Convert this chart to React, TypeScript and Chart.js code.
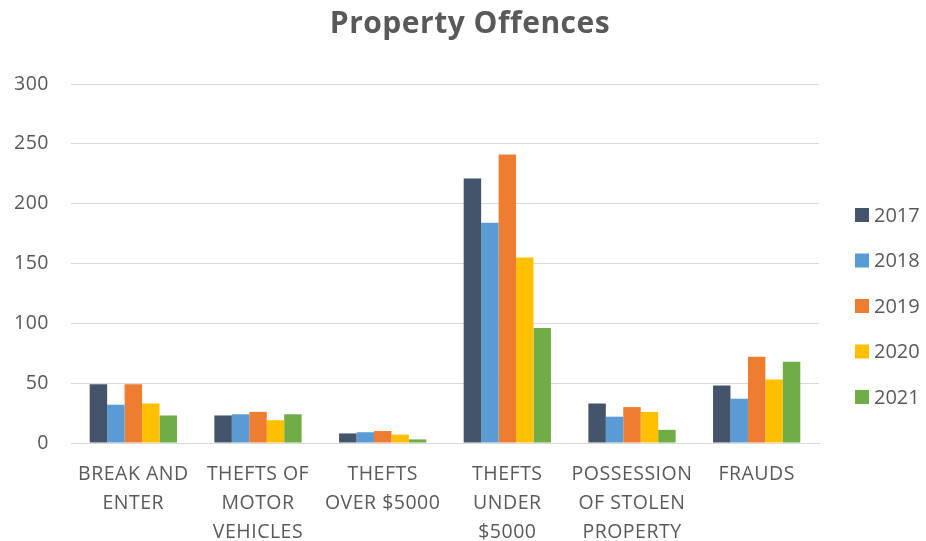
import React, { useEffect, useRef } from "react";
import { Chart, registerables } from "chart.js";

Chart.register(...registerables);

const categories: string[][] = [
  ["BREAK AND", "ENTER"],
  ["THEFTS OF", "MOTOR", "VEHICLES"],
  ["THEFTS", "OVER $5000"],
  ["THEFTS", "UNDER", "$5000"],
  ["POSSESSION", "OF STOLEN", "PROPERTY"],
  ["FRAUDS"],
];

const years = ["2017", "2018", "2019", "2020", "2021"];
const values2017 = [49, 23, 8, 221, 33, 48];
const values2018 = [32, 24, 9, 184, 22, 37];
const values2019 = [49, 26, 10, 241, 30, 72];
const values2020 = [33, 19, 7, 155, 26, 53];
const values2021 = [23, 24, 3, 96, 11, 68];
const colors = ["#44546A", "#5B9BD5", "#ED7D31", "#FFC000", "#70AD47"];
const titleText = "Property Offences";

const FONT = "'Open Sans', Lato, sans-serif";
const TEXT = "#595959";

const sideLegendAndTitle = {
  id: "sideLegendAndTitle",
  beforeDraw(chart: any) {
    (chart.ctx as any).letterSpacing = "0.5px";
  },
  afterDraw(chart: any) {
    const ctx = chart.ctx;
    const area = chart.chartArea;
    ctx.save();
    // title
    ctx.letterSpacing = "0.5px";
    ctx.fillStyle = TEXT;
    ctx.font = `bold 30px ${FONT}`;
    ctx.textAlign = "center";
    ctx.textBaseline = "middle";
    ctx.fillText(titleText, chart.width / 2 + 7, 24);
    // legend
    ctx.letterSpacing = "0px";
    ctx.font = `20px ${FONT}`;
    ctx.textAlign = "left";
    const x0 = area.right + 36;
    const spacing = 45.5;
    const y0 = 215;
    chart.data.datasets.forEach((ds: any, i: number) => {
      const cy = y0 + i * spacing;
      ctx.fillStyle = ds.backgroundColor;
      ctx.fillRect(x0, cy - 7, 14, 14);
      ctx.fillStyle = TEXT;
      ctx.fillText(ds.label, x0 + 19, cy + 1);
    });
    ctx.restore();
  },
};

export default function App() {
  const ref = useRef<HTMLCanvasElement | null>(null);

  useEffect(() => {
    if (!ref.current) return;
    const series = [values2017, values2018, values2019, values2020, values2021];
    const chart = new Chart(ref.current, {
      type: "bar",
      data: {
        labels: categories,
        datasets: series.map((d, i) => ({
          label: years[i],
          data: d,
          backgroundColor: colors[i],
          borderWidth: 0,
          categoryPercentage: 0.7,
          barPercentage: 1.0,
        })),
      },
      options: {
        animation: false,
        responsive: true,
        maintainAspectRatio: false,
        layout: { padding: { left: 0, right: 107, top: 84, bottom: 0 } },
        plugins: {
          title: { display: false },
          legend: { display: false },
          tooltip: { enabled: false },
        },
        scales: {
          x: {
            grid: { display: false, drawTicks: false },
            border: { display: true, color: "#D9D9D9", width: 1 },
            ticks: {
              color: TEXT,
              font: { family: FONT, size: 19.5, lineHeight: 1.48 },
              padding: 17,
              maxRotation: 0,
              autoSkip: false,
            },
            afterFit: (scale: any) => {
              scale.height = 98;
            },
          },
          y: {
            min: 0,
            max: 300,
            ticks: {
              stepSize: 50,
              color: TEXT,
              font: { family: FONT, size: 19.5 },
              padding: 22,
            },
            grid: { color: "#D9D9D9", lineWidth: 1, drawTicks: false },
            border: { display: false },
            afterFit: (scale: any) => {
              scale.width = 71;
            },
          },
        },
      },
      plugins: [sideLegendAndTitle],
    });
    return () => chart.destroy();
  }, []);

  return (
    <div
      style={{
        position: "fixed",
        left: 0,
        top: 0,
        width: 926,
        height: 541,
        background: "#ffffff",
        overflow: "hidden",
      }}
    >
      <canvas ref={ref} />
    </div>
  );
}
